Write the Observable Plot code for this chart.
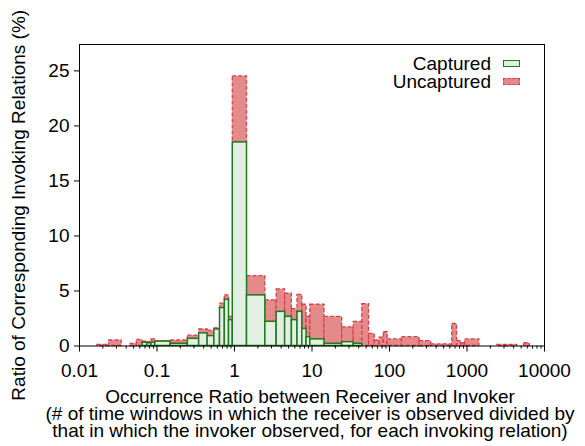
<!DOCTYPE html>
<html><head><meta charset="utf-8">
<script src="https://cdn.jsdelivr.net/npm/d3@7"></script>
<script src="https://cdn.jsdelivr.net/npm/@observablehq/plot@0.6"></script>
<style>
body{margin:0;background:#fff;}
#wrap{position:relative;width:585px;height:446px;font-family:"Liberation Sans",Arial,Helvetica,sans-serif;}
.lg{position:absolute;right:94px;font-size:19px;line-height:18px;color:#000;white-space:nowrap;}
.sw{position:absolute;left:503px;width:15px;height:5px;}
</style></head><body><div id="wrap"></div>
<script>
// Histogram bins (occurrence ratio ranges)
const binLo = [0.017,0.024,0.045,0.055,0.065,0.075,0.085,0.095,0.15,0.25,0.35,0.45,0.55,0.65,0.75,0.85,0.95,1.45,2.5,3.5,4.5,5.5,6.5,7.5,8.5,9.5,14.5,24.5,34.5,44.5,54.5,64.5,74.5,84.5,94.5,144.5,244.5,344.5,644.5,744.5,844.5,944.5,2444.5,5444.5];
const binHi = [0.024,0.035,0.055,0.065,0.075,0.085,0.095,0.15,0.25,0.35,0.45,0.55,0.65,0.75,0.85,0.95,1.45,2.5,3.5,4.5,5.5,6.5,7.5,8.5,9.5,14.5,24.5,34.5,44.5,54.5,64.5,74.5,84.5,94.5,144.5,244.5,344.5,644.5,744.5,844.5,944.5,1444.5,4444.5,6444.5];
// Series values (%)
const captured = [0,0,0,0,0.3,0.25,0.3,0.4,0.2,0.65,1.15,0.9,1.5,3.45,4.2,2.35,18.5,4.6,2.2,3.1,2.65,2.35,3.1,1.55,0.8,0.6,0.2,0.35,0.2,0,0,0,0,0,0,0,0,0,0,0,0,0,0,0];
const uncaptured = [0.1,0.5,0.2,0.55,0.1,0.1,0.3,0.05,0.3,0.3,0.35,0.5,0.1,0.4,0.4,0.3,6.0,1.75,1.95,2.05,2.1,1.0,1.55,2.2,1.85,3.15,2.45,1.35,2.0,3.8,1.1,0.5,0.75,1.25,0.6,0.8,0.45,0.15,2.0,0.45,0.25,0.6,0.1,0.25];
// Ticks and labels
const xTicks = [0.01,0.1,1,10,100,1000,10000];
const xTickLabels = ["0.01","0.1","1","10","100","1000","10000"];
const xMinorTicks = [];
for (let e = -2; e < 4; e++) for (let m = 2; m <= 9; m++) xMinorTicks.push(+(m * Math.pow(10, e)).toPrecision(3));
const yTicks = [0,5,10,15,20,25];
const seriesNames = ["Captured","Uncaptured"];
const xTitle = "Occurrence Ratio between Receiver and Invoker\n(# of time windows in which the receiver is observed divided by\nthat in which the invoker observed, for each invoking relation)";
const yTitle = "Ratio of Corresponding Invoking Relations (%)";

const rows = binLo.map((lo, i) => ({lo, hi: binHi[i], c: captured[i], u: uncaptured[i]}));
const greenFill = "#e4efe4", greenStroke = "#1f7a1f";
const redFill = "#e48a8a", redStroke = "#d8404a";

const chart = Plot.plot({
  width: 585, height: 446,
  marginTop: 44, marginBottom: 100.5, marginLeft: 79, marginRight: 41,
  style: {fontFamily: "'Liberation Sans', Arial, Helvetica, sans-serif", fontSize: "19px", color: "#000", background: "#fff", overflow: "visible"},
  x: {type: "log", domain: [0.01, 10000]},
  y: {domain: [0, 27.4]},
  marks: [
    Plot.rect(rows.filter(d => d.u > 0), {x1: "lo", x2: "hi", y1: d => d.c, y2: d => d.c + d.u, fill: redFill, stroke: redStroke, strokeWidth: 1.3, strokeDasharray: "4,2"}),
    Plot.rect(rows.filter(d => d.c > 0), {x1: "lo", x2: "hi", y1: d => 0, y2: "c", fill: greenFill, stroke: greenStroke, strokeWidth: 1.5}),
    Plot.frame({stroke: "#000", strokeWidth: 1}),
    Plot.axisX(xMinorTicks, {tickSize: 3, tickFormat: () => "", label: null, stroke: "#000"}),
    Plot.axisX(xTicks, {tickSize: 6, tickPadding: 11, tickFormat: d => xTickLabels[xTicks.indexOf(d)], label: null, stroke: "#000", fill: "#000"}),
    Plot.axisY(yTicks, {tickSize: 5, tickPadding: 5, label: null, stroke: "#000", fill: "#000"}),
    Plot.text([xTitle], {frameAnchor: "bottom", lineAnchor: "top", textAnchor: "middle", dx: -2, dy: 45, lineHeight: 0.9, fill: "#000"}),
    Plot.text([yTitle], {frameAnchor: "left", rotate: -90, textAnchor: "middle", dx: -61, dy: 10, fill: "#000"})
  ]
});
const wrap = document.getElementById("wrap");
wrap.appendChild(chart);

// Legend
const lg = [
  {name: seriesNames[0], top: 54.5, fill: greenFill, border: "1.5px solid " + greenStroke, stop: 60},
  {name: seriesNames[1], top: 72.5, fill: redFill, border: "1.5px dashed " + redStroke, stop: 78}
];
for (const e of lg) {
  const t = document.createElement("div");
  t.className = "lg"; t.style.top = e.top + "px"; t.textContent = e.name;
  wrap.appendChild(t);
  const s = document.createElement("div");
  s.className = "sw"; s.style.top = e.stop + "px"; s.style.background = e.fill; s.style.border = e.border;
  wrap.appendChild(s);
}
</script></body></html>
